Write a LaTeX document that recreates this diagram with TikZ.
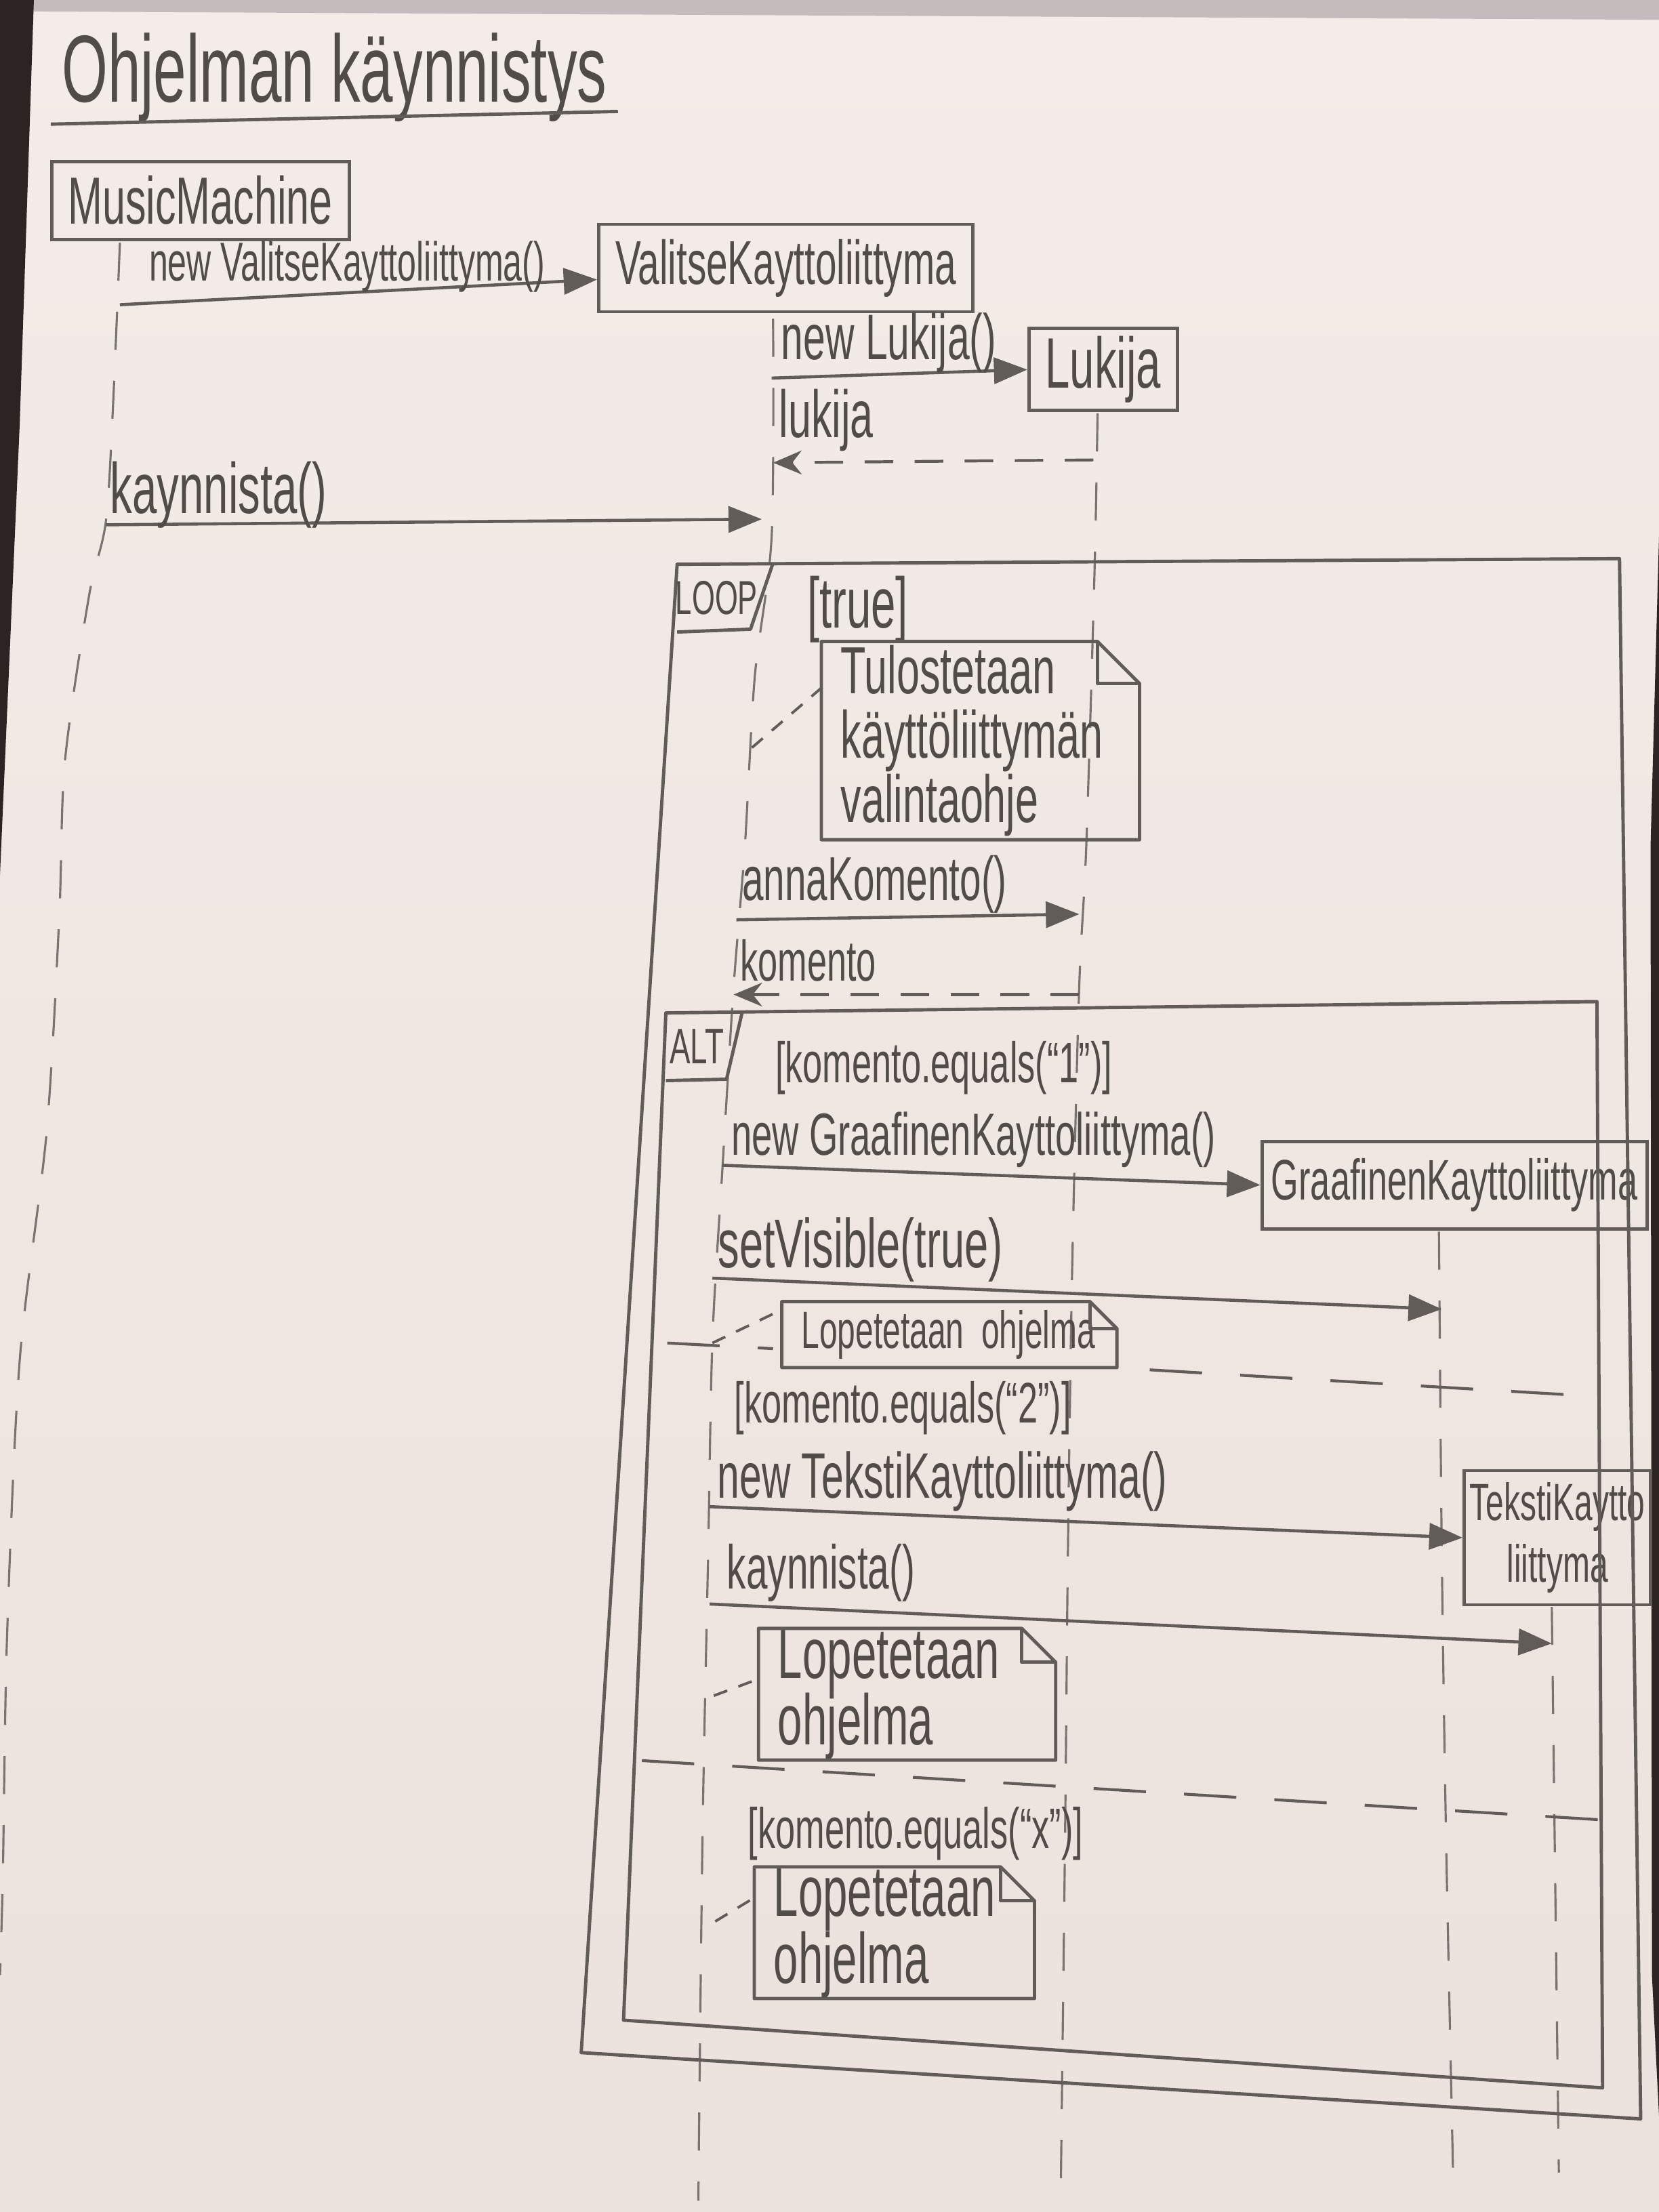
\documentclass[tikz,border=0pt]{standalone}
\usepackage{fontspec}
\usetikzlibrary{arrows.meta}
\newfontfamily\hand{Liberation Sans}[FakeStretch=0.62]
\definecolor{paper}{RGB}{243,236,232}
\definecolor{paperlow}{RGB}{236,226,221}
\definecolor{pencil}{RGB}{98,92,88}
\definecolor{ink}{RGB}{82,76,72}
\definecolor{edge}{RGB}{43,36,34}
\definecolor{table}{RGB}{196,188,188}

% outline of a UML note with a folded top-right corner
\newcommand\foldnote[2]{%
  \draw[frame] (#1.south west) -- (#1.north west) -- ([xshift=-#2]#1.north east)
     -- ([yshift=-#2]#1.north east) -- (#1.south east) -- cycle;
  \draw[frame] ([xshift=-#2]#1.north east) |- ([yshift=-#2]#1.north east);}

\tikzset{
  frame/.style={draw=pencil, line width=1.4pt, line join=round},
  objbox/.style={draw=pencil, line width=1.4pt, inner sep=0pt, text=ink},
  msg/.style={draw=pencil, line width=1.3pt, -{Triangle[length=14pt,width=11pt]}},
  ret/.style={draw=pencil, line width=1.2pt, dash pattern=on 12pt off 9pt, -{Stealth[length=12pt,width=10pt]}},
  life/.style={draw=pencil!85, line width=0.9pt, dash pattern=on 16pt off 13pt},
  lbl/.style={font=\hand\fontsize{26}{28}\selectfont, text=ink, inner sep=0pt},
  guard/.style={font=\hand\fontsize{24}{26}\selectfont, text=ink, inner sep=0pt},
  tag/.style={font=\hand\fontsize{20}{22}\selectfont, text=ink, inner sep=0pt},
  notebox/.style={inner sep=0pt, inner xsep=0.28cm, align=left, text=ink},
  sep/.style={draw=pencil, line width=1.2pt, dash pattern=on 22pt off 16pt},
  link/.style={draw=pencil, line width=1.1pt, dash pattern=on 6pt off 5pt},
}

\begin{document}
\begin{tikzpicture}[x=0.02082cm, y=-0.02082cm]
\useasboundingbox (0,0) rectangle (1176,1568);

% sheet of paper
\shade[top color=paper, bottom color=paperlow] (0,0) rectangle (1176,1568);
\fill[table] (0,0) -- (1176,0) -- (1176,14) -- (0,8) -- cycle;
\fill[edge] (0,0) -- (24,0) -- (14,300) -- (0,620) -- cycle;
\fill[edge] (1176,380) -- (1170,600) -- (1171,1400) -- (1176,1500) -- cycle;

% title
\node[font=\hand\fontsize{40}{44}\selectfont, text=ink, inner sep=0pt] (title) at (237,55) {Ohjelman käynnistys};
\coordinate (ulA) at (36,88);
\coordinate (ulB) at (438,79);
\draw[frame] (ulA) -- (ulB);

% participants
\node[objbox, minimum width=4.39cm, minimum height=1.15cm, font=\hand\fontsize{28}{30}\selectfont] (mm) at (142,142) {MusicMachine};
\node[objbox, minimum width=5.52cm, minimum height=1.29cm, font=\hand\fontsize{26}{28}\selectfont] (vk) at (557,190) {ValitseKayttoliittyma};
\node[objbox, minimum width=2.19cm, minimum height=1.21cm, font=\hand\fontsize{30}{32}\selectfont] (lk) at (782,262) {Lukija};
\node[objbox, minimum width=5.68cm, minimum height=1.29cm, font=\hand\fontsize{24}{26}\selectfont] (gk) at (1031,840) {GraafinenKayttoliittyma};
\node[objbox, minimum width=2.75cm, minimum height=1.98cm, align=center, font=\hand\fontsize{22}{26}\selectfont] (tk) at (1104,1090) {TekstiKaytto\\liittyma};

% lifelines
\draw[life] plot[smooth] coordinates {(85,172) (80,290) (75,370) (63,423) (46,540) (42,650) (33,803) (14,964) (5,1160) (2,1330) (0,1400)};
\draw[life] plot[smooth] coordinates {(548,226) (547,380) (535,480) (528,600) (520,700) (512,830) (505,950) (502,1100) (498,1300) (495,1560)};
\draw[life] plot[smooth] coordinates {(778,293) (776,400) (770,600) (765,700) (760,900) (757,1100) (755,1300) (752,1548)};
\draw[life] plot[smooth] coordinates {(1020,873) (1022,1100) (1025,1300) (1030,1540)};
\draw[life] plot[smooth] coordinates {(1100,1139) (1102,1300) (1105,1540)};

% start-up messages
\coordinate (m1s) at (85,216);
\draw[msg] (m1s) -- ([yshift=-0.17cm]vk.west);
\node[lbl, font=\hand\fontsize{23}{25}\selectfont] (l1) at (246,189) {new ValitseKayttoliittyma()};

\coordinate (m2s) at (547,268);
\draw[msg] (m2s) -- (lk.west);
\node[lbl, font=\hand\fontsize{27}{29}\selectfont] (l2) at (630,243) {new Lukija()};

\coordinate (m3s) at (775,326);
\coordinate (m3e) at (548,328);
\draw[ret] (m3s) -- (m3e);
\node[lbl, anchor=west, font=\hand\fontsize{28}{30}\selectfont] (l3) at (552,298) {lukija};

\coordinate (m4s) at (75,372);
\coordinate (m4e) at (540,368);
\draw[msg] (m4s) -- (m4e);
\node[lbl, font=\hand\fontsize{30}{32}\selectfont] (l4) at (155,351) {kaynnista()};

% loop frame
\coordinate (lpTL) at (480,400);
\coordinate (lpTR) at (1148,396);
\coordinate (lpBR) at (1163,1502);
\coordinate (lpBL) at (412,1455);
\draw[frame] (lpTL) -- (lpTR) -- (lpBR) -- (lpBL) -- cycle;
\coordinate (lpT1) at (480,448);
\coordinate (lpT2) at (532,446);
\coordinate (lpT3) at (548,399);
\draw[frame] (lpT1) -- (lpT2) -- (lpT3);
\node[tag] (looptag) at (508,424) {LOOP};
\node[guard, font=\hand\fontsize{30}{32}\selectfont] (g0) at (608,432) {[true]};

% note: menu printout
\node[notebox, minimum width=4.68cm, minimum height=2.91cm, text width=4.12cm, font=\hand\fontsize{28}{27}\selectfont] (n1) at (695,525) {Tulostetaan\\käyttöliittymän\\valintaohje};
\foldnote{n1}{0.62cm}
\coordinate (n1a) at (533,530);
\coordinate (n1b) at (583,487);
\draw[link] (n1a) -- (n1b);

\coordinate (m5s) at (522,652);
\coordinate (m5e) at (765,648);
\draw[msg] (m5s) -- (m5e);
\node[lbl] (l5) at (620,627) {annaKomento()};

\coordinate (m6s) at (765,705);
\coordinate (m6e) at (520,705);
\draw[ret] (m6s) -- (m6e);
\node[lbl, font=\hand\fontsize{24}{26}\selectfont] (l6) at (573,681) {komento};

% alt frame
\coordinate (atTL) at (472,718);
\coordinate (atTR) at (1132,710);
\coordinate (atBR) at (1136,1480);
\coordinate (atBL) at (442,1432);
\draw[frame] (atTL) -- (atTR) -- (atBR) -- (atBL) -- cycle;
\coordinate (atT1) at (472,766);
\coordinate (atT2) at (515,765);
\coordinate (atT3) at (526,718);
\draw[frame] (atT1) -- (atT2) -- (atT3);
\node[tag, font=\hand\fontsize{21}{23}\selectfont] (alttag) at (494,742) {ALT};
\node[guard] (g1) at (669,757) {[komento.equals(“1”)]};

% operand separators (the first one breaks around the note)
\coordinate (sp1a) at (473,952);
\coordinate (sp1m) at (548,956);
\coordinate (sp1n) at (815,971);
\coordinate (sp1b) at (1134,990);
\draw[sep] (sp1a) -- (sp1m);
\draw[sep] (sp1n) -- (sp1b);
\coordinate (sp2a) at (455,1248);
\coordinate (sp2b) at (1135,1290);
\draw[sep] (sp2a) -- (sp2b);

% first operand
\coordinate (m7s) at (512,826);
\draw[msg] (m7s) -- (gk.west);
\node[lbl, font=\hand\fontsize{25}{27}\selectfont] (l7) at (690,808) {new GraafinenKayttoliittyma()};

\coordinate (m8s) at (505,906);
\coordinate (m8e) at (1022,928);
\draw[msg] (m8s) -- (m8e);
\node[lbl, font=\hand\fontsize{29}{31}\selectfont] (l8) at (610,886) {setVisible(true)};

\node[notebox, minimum width=4.93cm, minimum height=0.96cm, text width=4.37cm, font=\hand\fontsize{22}{24}\selectfont] (n2) at (673,946) {Lopetetaan ohjelma};
\foldnote{n2}{0.4cm}
\coordinate (n2a) at (505,952);
\coordinate (n2b) at (555,928);
\draw[link] (n2a) -- (n2b);

% second operand
\node[guard] (g2) at (640,998) {[komento.equals(“2”)]};

\coordinate (m9s) at (503,1068);
\draw[msg] (m9s) -- (tk.west);
\node[lbl, font=\hand\fontsize{27}{29}\selectfont] (l9) at (668,1050) {new TekstiKayttoliittyma()};

\coordinate (m10s) at (503,1137);
\coordinate (m10e) at (1100,1165);
\draw[msg] (m10s) -- (m10e);
\node[lbl] (l10) at (582,1115) {kaynnista()};

\node[notebox, minimum width=4.37cm, minimum height=1.83cm, text width=3.81cm, font=\hand\fontsize{30}{28}\selectfont] (n3) at (643,1201) {Lopetetaan\\ohjelma};
\foldnote{n3}{0.5cm}
\coordinate (n3a) at (506,1202);
\coordinate (n3b) at (538,1190);
\draw[link] (n3a) -- (n3b);

% third operand
\node[guard] (g3) at (649,1300) {[komento.equals(“x”)]};

\node[notebox, minimum width=4.12cm, minimum height=1.77cm, text width=3.56cm, font=\hand\fontsize{30}{28}\selectfont] (n4) at (634,1370) {Lopetetaan\\ohjelma};
\foldnote{n4}{0.5cm}
\coordinate (n4a) at (507,1362);
\coordinate (n4b) at (535,1345);
\draw[link] (n4a) -- (n4b);

\end{tikzpicture}
\end{document}
